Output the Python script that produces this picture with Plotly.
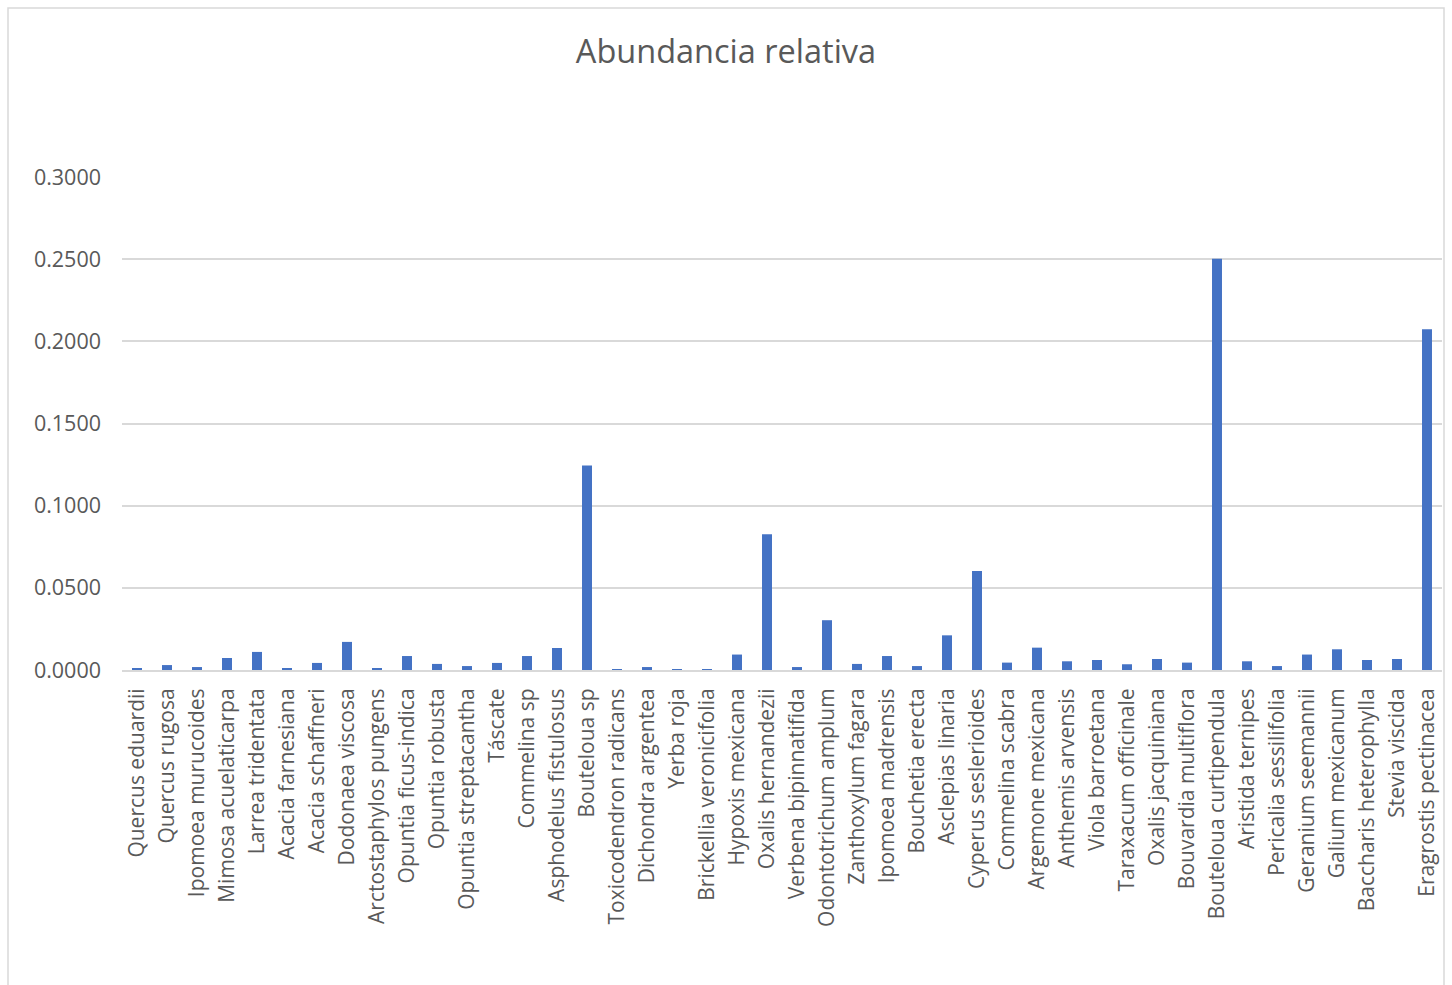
import plotly.graph_objects as go

species = [
    "Quercus eduardii", "Quercus rugosa", "Ipomoea murucoides", "Mimosa acuelaticarpa",
    "Larrea tridentata", "Acacia farnesiana", "Acacia schaffneri", "Dodonaea viscosa",
    "Arctostaphylos pungens", "Opuntia ficus-indica", "Opuntia robusta", "Opuntia streptacantha",
    "Táscate", "Commelina sp", "Asphodelus fistulosus", "Bouteloua sp",
    "Toxicodendron radicans", "Dichondra argentea", "Yerba roja", "Brickellia veronicifolia",
    "Hypoxis mexicana", "Oxalis hernandezii", "Verbena bipinnatifida", "Odontotrichum amplum",
    "Zanthoxylum fagara", "Ipomoea madrensis", "Bouchetia erecta", "Asclepias linaria",
    "Cyperus seslerioides", "Commelina scabra", "Argemone mexicana", "Anthemis arvensis",
    "Viola barroetana", "Taraxacum officinale", "Oxalis jacquiniana", "Bouvardia multiflora",
    "Bouteloua curtipendula", "Aristida ternipes", "Pericalia sessilifolia", "Geranium seemannii",
    "Galium mexicanum", "Baccharis heterophylla", "Stevia viscida", "Eragrostis pectinacea",
]

abundancia = [
    0.0007, 0.0030, 0.0018, 0.0073,
    0.0110, 0.0012, 0.0043, 0.0171,
    0.0012, 0.0085, 0.0037, 0.0024,
    0.0043, 0.0085, 0.0134, 0.1244,
    0.0006, 0.0018, 0.0006, 0.0006,
    0.0094, 0.0826, 0.0018, 0.0303,
    0.0037, 0.0085, 0.0024, 0.0211,
    0.0602, 0.0045, 0.0136, 0.0053,
    0.0061, 0.0035, 0.0067, 0.0045,
    0.2502, 0.0053, 0.0024, 0.0094,
    0.0126, 0.0061, 0.0067, 0.2073,
]

y_ticks = [0.0, 0.05, 0.10, 0.15, 0.20, 0.25, 0.30]

W, H = 1452, 985
L, R, T, B = 122, 10, 177, 315
pw, ph = W - L - R, H - T - B
y_bottom_px = H - B

fig = go.Figure(go.Bar(
    x=species, y=abundancia,
    marker=dict(color="#4472C4", line=dict(width=0)),
))

font = "Open Sans"
grey = "#595959"

fig.update_layout(
    width=W, height=H,
    margin=dict(l=L, r=R, t=T, b=B, autoexpand=False),
    paper_bgcolor="white", plot_bgcolor="white",
    bargap=0.667,
    showlegend=False,
    title=dict(text="Abundancia relativa", x=(726) / W, xanchor="center",
               y=1 - 52 / H, yanchor="middle",
               font=dict(family=font, size=32.5, color=grey)),
    font=dict(family=font, color=grey),
    xaxis=dict(
        type="category", range=[-0.5, len(species) - 0.5],
        tickangle=-90, tickfont=dict(size=21, color=grey),
        showgrid=False, showline=True, linecolor="#D9D9D9", linewidth=2,
        ticks="", ticklabelstandoff=8,
    ),
    yaxis=dict(
        range=[0, 0.3], tickvals=y_ticks, tickformat=".4f",
        tickfont=dict(size=21.5, color=grey),
        showgrid=True, gridcolor="#D9D9D9", gridwidth=1.5,
        zeroline=False, showline=False, ticks="", ticklabelstandoff=20,
    ),
    shapes=[dict(
        type="rect", xref="paper", yref="paper",
        x0=(8 - L) / pw, x1=(1444 - L) / pw,
        y0=(y_bottom_px - 995) / ph, y1=(y_bottom_px - 8) / ph,
        line=dict(color="#D9D9D9", width=1.5), fillcolor="rgba(0,0,0,0)", layer="below",
    )],
)

fig.write_html("out.html")
